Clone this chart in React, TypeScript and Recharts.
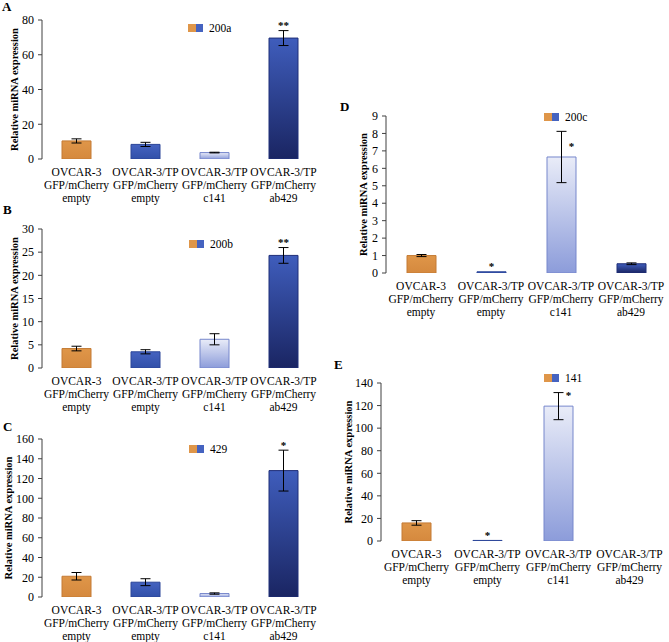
import React from 'react';
import { BarChart, Bar, XAxis, YAxis, Cell, ErrorBar, LabelList, Legend } from 'recharts';

// ---------- data ----------
const categories = [
  'OVCAR-3 GFP/mCherry empty',
  'OVCAR-3/TP GFP/mCherry empty',
  'OVCAR-3/TP GFP/mCherry c141',
  'OVCAR-3/TP GFP/mCherry ab429',
];

const mir200aValues = [10.4, 8.4, 3.7, 69.6];
const mir200aErrors = [1.2, 1.2, 0.2, 4.3];
const mir200aSig = ['', '', '', '**'];
const mir200aTicks = [0, 20, 40, 60, 80];

const mir200bValues = [4.2, 3.5, 6.2, 24.3];
const mir200bErrors = [0.5, 0.45, 1.2, 1.7];
const mir200bSig = ['', '', '', '**'];
const mir200bTicks = [0, 5, 10, 15, 20, 25, 30];

const mir429Values = [21, 15, 3.5, 128];
const mir429Errors = [3.8, 3.5, 0.7, 20.7];
const mir429Sig = ['', '', '', '*'];
const mir429Ticks = [0, 20, 40, 60, 80, 100, 120, 140, 160];

const mir200cValues = [1.0, 0.07, 6.65, 0.53];
const mir200cErrors = [0.06, null, 1.47, 0.05];
const mir200cSig = ['', '*', '*', ''];
const mir200cTicks = [0, 1, 2, 3, 4, 5, 6, 7, 8, 9];

const mir141Values = [16, 0.5, 119.5, 0];
const mir141Errors = [2, null, 12, null];
const mir141Sig = ['', '*', '*', ''];
const mir141Ticks = [0, 20, 40, 60, 80, 100, 120, 140];

// ---------- style ----------
const FONT = '"Liberation Serif", "Times New Roman", serif';
const AXIS = '#404040';
const gradients = [
  { top: '#DF9649', bottom: '#D5893E', border: '#C47B35' },
  { top: '#4563C0', bottom: '#3150A9', border: '#2C4699' },
  { top: '#E9ECF8', bottom: '#8C9CDA', border: '#7687CC' },
  { top: '#3F5DBC', bottom: '#1A2562', border: '#1F2E78' },
];

type Layout = {
  chartLeft: number; chartRight: number;
  plotLeft: number; plotRight: number; plotTop: number; plotBottom: number;
  labelDx: number; letterX: number; letterY: number; legendX: number; legendY: number;
};

type PanelDef = {
  id: string; letter: string; name: string;
  values: number[]; errors: (number | null)[]; sig: string[]; ticks: number[];
  sigBeside: number[]; layout: Layout;
};

const panels: PanelDef[] = [
  {
    id: 'a', letter: 'A', name: '200a', values: mir200aValues, errors: mir200aErrors, sig: mir200aSig, ticks: mir200aTicks, sigBeside: [],
    layout: { chartLeft: 0, chartRight: 340, plotLeft: 42, plotRight: 318, plotTop: 20, plotBottom: 159, labelDx: 28, letterX: 2, letterY: 7, legendX: 188, legendY: 28 },
  },
  {
    id: 'b', letter: 'B', name: '200b', values: mir200bValues, errors: mir200bErrors, sig: mir200bSig, ticks: mir200bTicks, sigBeside: [],
    layout: { chartLeft: 0, chartRight: 340, plotLeft: 42, plotRight: 318, plotTop: 229, plotBottom: 368, labelDx: 28, letterX: 3, letterY: 210, legendX: 189, legendY: 244 },
  },
  {
    id: 'c', letter: 'C', name: '429', values: mir429Values, errors: mir429Errors, sig: mir429Sig, ticks: mir429Ticks, sigBeside: [],
    layout: { chartLeft: 0, chartRight: 340, plotLeft: 42, plotRight: 318, plotTop: 439, plotBottom: 597, labelDx: 34, letterX: 3, letterY: 427, legendX: 189, legendY: 449 },
  },
  {
    id: 'd', letter: 'D', name: '200c', values: mir200cValues, errors: mir200cErrors, sig: mir200cSig, ticks: mir200cTicks, sigBeside: [2],
    layout: { chartLeft: 330, chartRight: 669, plotLeft: 386, plotRight: 666, plotTop: 116, plotBottom: 273, labelDx: 23, letterX: 340, letterY: 107, legendX: 544, legendY: 117 },
  },
  {
    id: 'e', letter: 'E', name: '141', values: mir141Values, errors: mir141Errors, sig: mir141Sig, ticks: mir141Ticks, sigBeside: [2],
    layout: { chartLeft: 330, chartRight: 669, plotLeft: 381, plotRight: 665, plotTop: 383, plotBottom: 541, labelDx: 33, letterX: 334, letterY: 365, legendX: 544, legendY: 378 },
  },
];

const TOP_PAD = 10;
const XAXIS_H = 56;

const CategoryTick = (props: any) => {
  const { x, y, payload } = props;
  const lines = String(payload.value).split(' ');
  return (
    <text x={x} y={y} textAnchor="middle" fontFamily={FONT} fontSize={11.5} fill="#000">
      {lines.map((l, i) => (
        <tspan key={i} x={x} dy={i === 0 ? 16.5 : 13.4}>{l}</tspan>
      ))}
    </text>
  );
};

function Panel({ p }: { p: PanelDef }) {
  const L = p.layout;
  const chartTop = L.plotTop - TOP_PAD;
  const width = L.chartRight - L.chartLeft;
  const height = L.plotBottom - chartTop + XAXIS_H;
  const yMax = p.ticks[p.ticks.length - 1];
  const data = categories.map((category, i) => ({ category, value: p.values[i], err: p.errors[i] }));
  const labelX = L.plotLeft - L.chartLeft - L.labelDx;
  const labelY = TOP_PAD + (L.plotBottom - L.plotTop) / 2;

  const sigLabel = (props: any) => {
    const vb = props.viewBox && props.viewBox.x !== undefined ? props.viewBox : props;
    const { x, y, width: w, height: h } = vb;
    let index = props.index;
    if (index === undefined) index = p.values.indexOf(props.value);
    const s = p.sig[index];
    if (!s) return null;
    const v = p.values[index];
    const e = p.errors[index] ?? 0;
    const cx = x + w / 2;
    if (p.sigBeside.includes(index)) {
      return (
        <text x={cx + 10} y={y - 7} textAnchor="middle" fontFamily={FONT} fontSize={11} fontWeight="bold" fill="#000">{s}</text>
      );
    }
    const perUnit = v > 0 ? Math.abs(h) / v : 0;
    const top = y - e * perUnit;
    return (
      <text x={cx} y={top - 1.5} textAnchor="middle" fontFamily={FONT} fontSize={11} fontWeight="bold" fill="#000">{s}</text>
    );
  };

  const legendContent = () => (
    <div style={{ display: 'flex', alignItems: 'center', fontFamily: FONT, fontSize: 11.5, color: '#000', lineHeight: '14px' }}>
      <span style={{ display: 'inline-block', width: 7.5, height: 8, background: gradients[0].top }} />
      <span style={{ display: 'inline-block', width: 7.5, height: 8, background: gradients[1].top }} />
      <span style={{ marginLeft: 6 }}>{p.name}</span>
    </div>
  );

  return (
    <div style={{ position: 'absolute', left: L.chartLeft, top: chartTop, width, height }}>
      <BarChart
        width={width}
        height={height}
        data={data}
        margin={{ top: TOP_PAD, right: L.chartRight - L.plotRight, left: 0, bottom: 0 }}
      >
        <defs>
          {gradients.map((g, i) => (
            <linearGradient key={i} id={`${p.id}-g${i}`} x1="0" y1="0" x2="0" y2="1">
              <stop offset="0%" stopColor={g.top} />
              <stop offset="100%" stopColor={g.bottom} />
            </linearGradient>
          ))}
        </defs>
        <XAxis
          xAxisId="bounds"
          type="number"
          domain={[0, 4]}
          ticks={[0, 1, 2, 3, 4]}
          interval={0}
          allowDataOverflow
          height={0}
          tickSize={4}
          stroke={AXIS}
          tick={() => <g />}
        />
        <XAxis
          xAxisId="cat"
          dataKey="category"
          height={XAXIS_H}
          axisLine={false}
          tickLine={false}
          tickSize={0}
          tickMargin={0}
          interval={0}
          tick={(tp: any) => <CategoryTick {...tp} />}
        />
        <YAxis
          width={L.plotLeft - L.chartLeft}
          domain={[0, yMax]}
          ticks={p.ticks}
          interval={0}
          allowDataOverflow
          tickSize={4}
          tickMargin={4}
          stroke={AXIS}
          tick={{ fontFamily: FONT, fontSize: 12, fill: '#000' }}
          label={{
            content: () => (
              <text
                x={labelX}
                y={labelY}
                transform={`rotate(-90 ${labelX} ${labelY})`}
                textAnchor="middle"
                dominantBaseline="central"
                fontFamily={FONT}
                fontWeight="bold"
                fontSize={10.5}
                fill="#000"
              >
                Relative miRNA expression
              </text>
            ),
          }}
        />
        <Legend
          content={legendContent}
          layout="horizontal"
          verticalAlign="middle"
          align="center"
          wrapperStyle={{ left: L.legendX - L.chartLeft, top: L.legendY - chartTop - 7, width: 'auto', height: 'auto' }}
        />
        <Bar xAxisId="cat" dataKey="value" barSize={29} isAnimationActive={false} strokeWidth={1}>
          {data.map((_, i) => (
            <Cell key={i} fill={`url(#${p.id}-g${i})`} stroke={gradients[i].border} />
          ))}
          <ErrorBar dataKey="err" width={5} stroke="#000" strokeWidth={1} direction="y" />
          <LabelList dataKey="value" content={sigLabel} />
        </Bar>
      </BarChart>
    </div>
  );
}

export default function App() {
  return (
    <div style={{ position: 'absolute', left: 0, top: 0, width: 669, height: 642, overflow: 'hidden', background: '#fff' }}>
      {panels.map((p) => (
        <React.Fragment key={p.id}>
          <Panel p={p} />
          <div
            style={{
              position: 'absolute',
              left: p.layout.letterX,
              top: p.layout.letterY - 8,
              fontFamily: FONT,
              fontWeight: 'bold',
              fontSize: 13,
              lineHeight: '16px',
              color: '#000',
            }}
          >
            {p.letter}
          </div>
        </React.Fragment>
      ))}
    </div>
  );
}
